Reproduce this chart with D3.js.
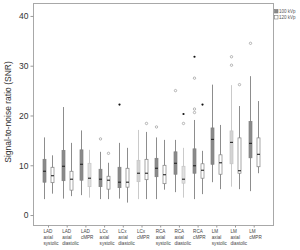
<!DOCTYPE html>
<html><head><meta charset="utf-8">
<script src="https://cdn.jsdelivr.net/npm/d3@7"></script>
<style>body{margin:0;background:#fff}svg{display:block}</style>
</head><body>
<script>
const categories = ["LAD axial systolic","LAD axial diastolic","LAD cMPR","LCx axial systolic","LCx axial diastolic","LCx cMPR","RCA axial systolic","RCA axial diastolic","RCA cMPR","LM axial systolic","LM axial diastolic","LM cMPR"];
const seriesNames = ["100 kVp","120 kVp"];
// [lower whisker, Q1, median, Q3, upper whisker]
const kvp100 = [[3.2,6.6,8.8,11.2,15.6],[3.3,6.9,9.8,13.0,21.7],[4.0,7.0,10.2,13.1,17.0],[3.2,5.7,7.2,9.2,12.7],[3.3,5.5,6.6,9.6,14.5],[3.2,6.7,8.4,11.0,17.1],[3.2,7.7,9.4,11.4,15.6],[4.6,8.2,10.4,12.7,15.1],[3.2,8.4,9.9,13.3,19.1],[6.6,10.2,15.2,17.5,26.2],[5.7,10.3,14.6,16.9,26.1],[4.8,11.5,14.4,18.8,27.9]];
const kvp120 = [[4.3,6.5,7.9,9.6,12.0],[3.8,5.0,7.2,8.8,14.5],[3.5,5.7,7.4,10.4,13.1],[3.2,5.2,7.0,7.8,10.5],[2.5,5.6,6.6,9.4,13.5],[3.2,7.1,8.4,11.2,16.7],[5.1,6.3,8.1,10.0,15.1],[3.5,6.4,7.2,9.8,13.5],[4.2,7.4,9.0,10.3,12.9],[5.2,8.2,10.5,12.1,18.1],[5.2,8.4,8.9,15.5,21.9],[8.4,9.7,12.2,15.5,22.9]];
// outliers: [category index, series index, value, extreme?]
const outliers = [[3,0,15.3,0],[3,1,12.4,0],[4,0,22.2,1],[5,1,18.4,0],[6,0,17.7,0],[7,0,25.0,0],[7,1,20.3,1],[7,1,18.4,0],[8,0,31.8,1],[8,0,27.5,0],[8,0,21.3,0],[8,0,20.6,0],[8,1,22.2,1],[10,0,31.8,0],[10,0,30.1,0],[10,1,26.2,0],[11,0,34.5,0]];
const yTicks = [0,10,20,30,40];
const yTitle = "Signal-to-noise ratio (SNR)";

const W=300,H=250;
const plot={l:33,r:273,t:3,b:225};
const svg=d3.select("body").append("svg").attr("width",W).attr("height",H);
const font="Liberation Sans, Arial, sans-serif";

const y=d3.scaleLinear().domain([-2,42.6]).range([plot.b,plot.t]);
const x=d3.scalePoint().domain(categories).range([48,253.7]);
const sx=d3.scalePoint().domain(seriesNames).range([-4,4]);

// frame
svg.append("rect").attr("x",plot.l+0.5).attr("y",plot.t+0.5).attr("width",plot.r-plot.l).attr("height",plot.b-plot.t)
  .attr("fill","none").attr("stroke","#a8a8a8").attr("stroke-width",1);

// y axis
const ya=svg.append("g").attr("transform",`translate(${plot.l+0.5},0)`)
  .call(d3.axisLeft(y).tickValues(yTicks).tickSize(3).tickPadding(2));
ya.select(".domain").remove();
ya.selectAll("line").attr("stroke","#999");
ya.selectAll("text").attr("font-family",font).attr("font-size",8.5).attr("fill","#333");

svg.append("text").attr("transform",`translate(11,${(plot.t+plot.b)/2-2}) rotate(-90)`)
  .attr("text-anchor","middle").attr("font-family",font).attr("font-size",8.5).attr("fill","#333").text(yTitle);

// x axis
const xa=svg.append("g").attr("transform",`translate(0,${plot.b+0.5})`)
  .call(d3.axisBottom(x).tickSize(2).tickFormat(""));
xa.select(".domain").remove();
xa.selectAll("line").attr("stroke","#999");
categories.forEach(c=>{
  const lines=c.split(" ");
  const t=svg.append("text").attr("font-family",font).attr("font-size",4.6).attr("fill","#444");
  lines.forEach((s,i)=>t.append("tspan").attr("x",x(c)-4.5).attr("y",233+i*6).text(s));
});

// light-shaded boxes as in the picture
const light=new Set(["2-1","5-0","7-1","10-0"]);
const series=[kvp100,kvp120];
const bw=3;
series.forEach((arr,si)=>{
  arr.forEach((d,ci)=>{
    const cx=Math.round(x(categories[ci])+sx(seriesNames[si]))+0.5;
    const isLight=light.has(ci+"-"+si);
    const fill= si===0 ? (isLight?"#d4d4d4":"#8a8a8a") : (isLight?"#e0e0e0":"#fff");
    const stroke= isLight?"#c4c4c4":"#808080";
    const g=svg.append("g");
    g.append("line").attr("x1",cx).attr("x2",cx).attr("y1",y(d[0])).attr("y2",y(d[4])).attr("stroke",stroke).attr("stroke-width",0.9);
    g.append("rect").attr("x",cx-bw/2).attr("width",bw).attr("y",y(d[3])).attr("height",y(d[1])-y(d[3]))
      .attr("fill",fill).attr("stroke",stroke).attr("stroke-width",0.7);
    g.append("line").attr("x1",cx-bw/2).attr("x2",cx+bw/2).attr("y1",y(d[2])).attr("y2",y(d[2])).attr("stroke","#222").attr("stroke-width",1.1);
  });
});

outliers.forEach(o=>{
  const cx=Math.round(x(categories[o[0]])+sx(seriesNames[o[1]]))+0.5;
  if(o[3]) svg.append("circle").attr("cx",cx).attr("cy",y(o[2])).attr("r",1.1).attr("fill","#111");
  else svg.append("circle").attr("cx",cx).attr("cy",y(o[2])).attr("r",1.2).attr("fill","none").attr("stroke","#999").attr("stroke-width",0.7);
});

// legend
const lg=svg.append("g");
seriesNames.forEach((s,i)=>{
  lg.append("rect").attr("x",274.5).attr("y",9.5+i*6).attr("width",3.5).attr("height",3.5)
    .attr("fill",i===0?"#8a8a8a":"#fff").attr("stroke","#7a7a7a").attr("stroke-width",0.6);
  lg.append("text").attr("x",279).attr("y",13+i*6).attr("font-family",font).attr("font-size",4.5).attr("fill","#555").text(s);
});
</script>
</body></html>
